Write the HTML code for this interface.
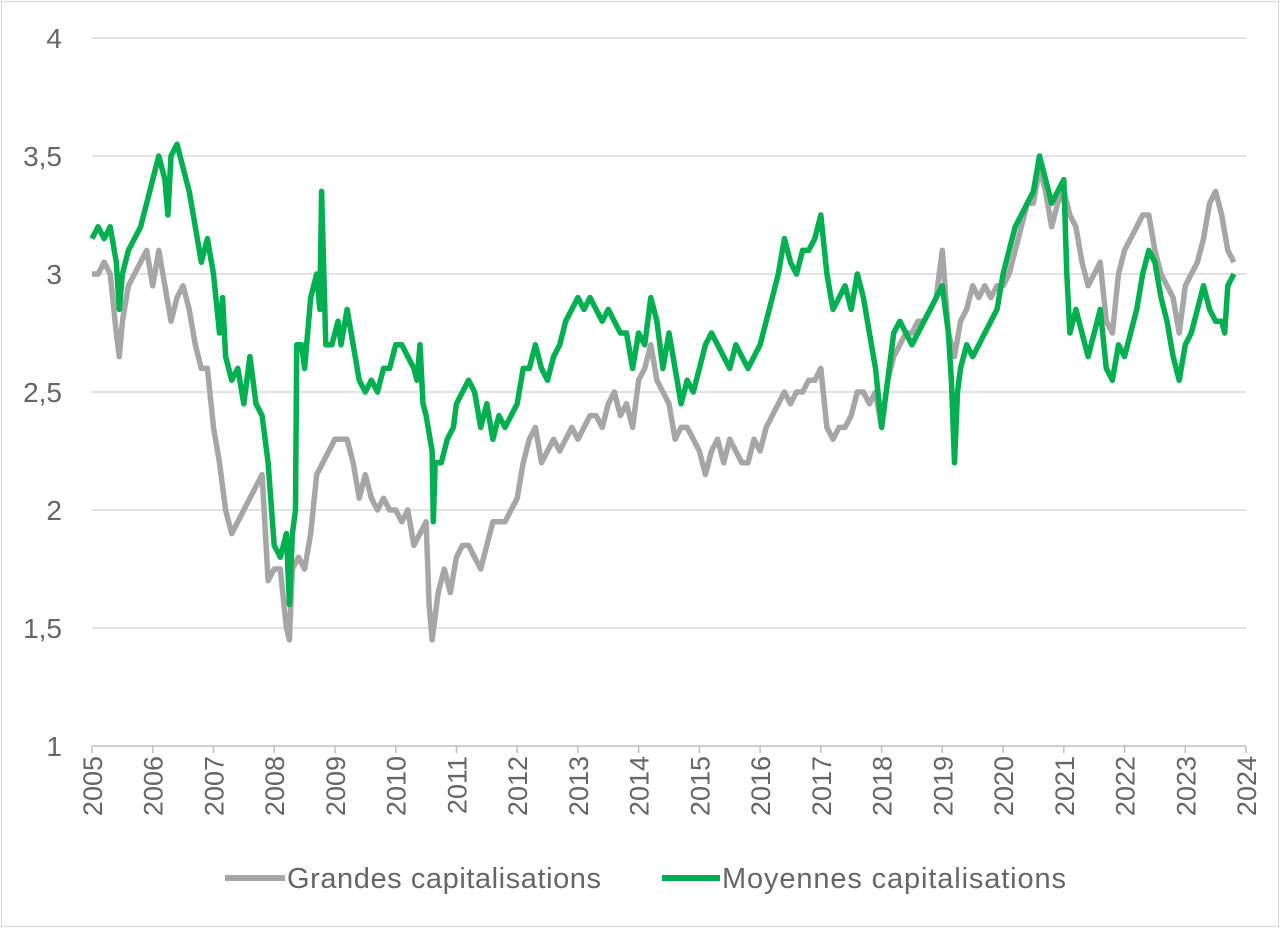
<!DOCTYPE html>
<html><head><meta charset="utf-8">
<style>
html,body{margin:0;padding:0;background:#fff;}
body{width:1280px;height:928px;overflow:hidden;font-family:"Liberation Sans",sans-serif;}
</style></head>
<body>
<svg id="chart" width="1280" height="928" xmlns="http://www.w3.org/2000/svg">
<rect x="1.5" y="1.5" width="1277" height="925" fill="#fff" stroke="#d9d9d9" stroke-width="1"/>
<g id="grid"></g><g id="axes"></g><g id="series"></g><g id="legend"></g>
</svg>
<script>
const yTicks=[1,1.5,2,2.5,3,3.5,4];
const yTickLabels=["1","1,5","2","2,5","3","3,5","4"];
const xTicks=[2005,2006,2007,2008,2009,2010,2011,2012,2013,2014,2015,2016,2017,2018,2019,2020,2021,2022,2023,2024];
const greenDates=[2005.0,2005.1,2005.2,2005.3,2005.4,2005.45,2005.5,2005.6,2005.7,2005.8,2005.9,2006.0,2006.1,2006.15,2006.2,2006.25,2006.3,2006.4,2006.5,2006.6,2006.7,2006.8,2006.9,2007.0,2007.1,2007.15,2007.2,2007.3,2007.4,2007.5,2007.6,2007.7,2007.8,2007.9,2008.0,2008.1,2008.2,2008.25,2008.3,2008.35,2008.37,2008.45,2008.5,2008.6,2008.7,2008.75,2008.78,2008.85,2008.95,2009.0,2009.05,2009.1,2009.2,2009.3,2009.4,2009.5,2009.6,2009.7,2009.8,2009.9,2010.0,2010.1,2010.2,2010.3,2010.35,2010.4,2010.45,2010.5,2010.6,2010.62,2010.65,2010.75,2010.85,2010.95,2011.0,2011.1,2011.2,2011.3,2011.4,2011.5,2011.6,2011.7,2011.8,2011.9,2012.0,2012.1,2012.2,2012.3,2012.4,2012.5,2012.6,2012.7,2012.8,2012.9,2013.0,2013.1,2013.2,2013.3,2013.4,2013.5,2013.6,2013.7,2013.8,2013.9,2014.0,2014.1,2014.2,2014.3,2014.4,2014.5,2014.6,2014.7,2014.8,2014.9,2015.0,2015.1,2015.2,2015.3,2015.4,2015.5,2015.6,2015.7,2015.8,2015.9,2016.0,2016.1,2016.2,2016.3,2016.4,2016.5,2016.6,2016.7,2016.8,2016.9,2017.0,2017.1,2017.2,2017.3,2017.4,2017.5,2017.6,2017.7,2017.8,2017.9,2018.0,2018.1,2018.2,2018.3,2018.4,2018.5,2018.6,2018.7,2018.8,2018.9,2019.0,2019.1,2019.15,2019.2,2019.25,2019.3,2019.4,2019.5,2019.6,2019.7,2019.8,2019.9,2020.0,2020.1,2020.2,2020.3,2020.4,2020.5,2020.6,2020.7,2020.8,2020.9,2021.0,2021.05,2021.1,2021.2,2021.3,2021.4,2021.5,2021.6,2021.7,2021.8,2021.9,2022.0,2022.1,2022.2,2022.3,2022.4,2022.5,2022.6,2022.7,2022.8,2022.9,2023.0,2023.1,2023.2,2023.3,2023.4,2023.5,2023.6,2023.65,2023.7,2023.8];
const greenValues=[3.15,3.2,3.15,3.2,3.05,2.85,3.0,3.1,3.15,3.2,3.3,3.4,3.5,3.45,3.4,3.25,3.5,3.55,3.45,3.35,3.2,3.05,3.15,3.0,2.75,2.9,2.65,2.55,2.6,2.45,2.65,2.45,2.4,2.2,1.85,1.8,1.9,1.6,1.9,2.0,2.7,2.7,2.6,2.9,3.0,2.85,3.35,2.7,2.7,2.75,2.8,2.7,2.85,2.7,2.55,2.5,2.55,2.5,2.6,2.6,2.7,2.7,2.65,2.6,2.55,2.7,2.45,2.4,2.25,1.95,2.2,2.2,2.3,2.35,2.45,2.5,2.55,2.5,2.35,2.45,2.3,2.4,2.35,2.4,2.45,2.6,2.6,2.7,2.6,2.55,2.65,2.7,2.8,2.85,2.9,2.85,2.9,2.85,2.8,2.85,2.8,2.75,2.75,2.6,2.75,2.7,2.9,2.8,2.6,2.75,2.6,2.45,2.55,2.5,2.6,2.7,2.75,2.7,2.65,2.6,2.7,2.65,2.6,2.65,2.7,2.8,2.9,3.0,3.15,3.05,3.0,3.1,3.1,3.15,3.25,3.0,2.85,2.9,2.95,2.85,3.0,2.9,2.75,2.6,2.35,2.55,2.75,2.8,2.75,2.7,2.75,2.8,2.85,2.9,2.95,2.75,2.55,2.2,2.5,2.6,2.7,2.65,2.7,2.75,2.8,2.85,3.0,3.1,3.2,3.25,3.3,3.35,3.5,3.4,3.3,3.35,3.4,3.0,2.75,2.85,2.75,2.65,2.75,2.85,2.6,2.55,2.7,2.65,2.75,2.85,3.0,3.1,3.05,2.9,2.8,2.65,2.55,2.7,2.75,2.85,2.95,2.85,2.8,2.8,2.75,2.95,3.0];
const grayDates=[2005.0,2005.1,2005.2,2005.3,2005.4,2005.45,2005.5,2005.6,2005.7,2005.8,2005.9,2006.0,2006.1,2006.2,2006.3,2006.4,2006.5,2006.6,2006.7,2006.8,2006.9,2007.0,2007.1,2007.2,2007.3,2007.4,2007.5,2007.6,2007.7,2007.8,2007.9,2008.0,2008.1,2008.2,2008.25,2008.3,2008.4,2008.5,2008.6,2008.7,2008.8,2008.9,2009.0,2009.1,2009.2,2009.3,2009.4,2009.5,2009.6,2009.7,2009.8,2009.9,2010.0,2010.1,2010.2,2010.3,2010.4,2010.5,2010.55,2010.6,2010.7,2010.8,2010.9,2011.0,2011.1,2011.2,2011.3,2011.4,2011.5,2011.6,2011.7,2011.8,2011.9,2012.0,2012.1,2012.2,2012.3,2012.4,2012.5,2012.6,2012.7,2012.8,2012.9,2013.0,2013.1,2013.2,2013.3,2013.4,2013.5,2013.6,2013.7,2013.8,2013.9,2014.0,2014.1,2014.2,2014.3,2014.4,2014.5,2014.6,2014.7,2014.8,2014.9,2015.0,2015.1,2015.2,2015.3,2015.4,2015.5,2015.6,2015.7,2015.8,2015.9,2016.0,2016.1,2016.2,2016.3,2016.4,2016.5,2016.6,2016.7,2016.8,2016.9,2017.0,2017.1,2017.2,2017.3,2017.4,2017.5,2017.6,2017.7,2017.8,2017.9,2018.0,2018.1,2018.2,2018.3,2018.4,2018.5,2018.6,2018.7,2018.8,2018.9,2019.0,2019.1,2019.2,2019.3,2019.4,2019.5,2019.6,2019.7,2019.8,2019.9,2020.0,2020.1,2020.2,2020.3,2020.4,2020.5,2020.6,2020.7,2020.8,2020.9,2021.0,2021.1,2021.2,2021.3,2021.4,2021.5,2021.6,2021.7,2021.8,2021.9,2022.0,2022.1,2022.2,2022.3,2022.4,2022.5,2022.6,2022.7,2022.8,2022.9,2023.0,2023.1,2023.2,2023.3,2023.4,2023.5,2023.6,2023.7,2023.8];
const grayValues=[3.0,3.0,3.05,3.0,2.75,2.65,2.8,2.95,3.0,3.05,3.1,2.95,3.1,2.95,2.8,2.9,2.95,2.85,2.7,2.6,2.6,2.35,2.2,2.0,1.9,1.95,2.0,2.05,2.1,2.15,1.7,1.75,1.75,1.5,1.45,1.75,1.8,1.75,1.9,2.15,2.2,2.25,2.3,2.3,2.3,2.2,2.05,2.15,2.05,2.0,2.05,2.0,2.0,1.95,2.0,1.85,1.9,1.95,1.6,1.45,1.65,1.75,1.65,1.8,1.85,1.85,1.8,1.75,1.85,1.95,1.95,1.95,2.0,2.05,2.2,2.3,2.35,2.2,2.25,2.3,2.25,2.3,2.35,2.3,2.35,2.4,2.4,2.35,2.45,2.5,2.4,2.45,2.35,2.55,2.6,2.7,2.55,2.5,2.45,2.3,2.35,2.35,2.3,2.25,2.15,2.25,2.3,2.2,2.3,2.25,2.2,2.2,2.3,2.25,2.35,2.4,2.45,2.5,2.45,2.5,2.5,2.55,2.55,2.6,2.35,2.3,2.35,2.35,2.4,2.5,2.5,2.45,2.5,2.35,2.55,2.65,2.7,2.75,2.75,2.8,2.8,2.85,2.9,3.1,2.75,2.65,2.8,2.85,2.95,2.9,2.95,2.9,2.95,2.95,3.0,3.1,3.2,3.3,3.3,3.45,3.35,3.2,3.3,3.35,3.25,3.2,3.05,2.95,3.0,3.05,2.8,2.75,3.0,3.1,3.15,3.2,3.25,3.25,3.1,3.0,2.95,2.9,2.75,2.95,3.0,3.05,3.15,3.3,3.35,3.25,3.1,3.05];

const NS="http://www.w3.org/2000/svg";
const X0=92,X1=1246,Y0=746,Y1=38;
function xScale(d){return X0+(d-2005)/(2024-2005)*(X1-X0);}
function yScale(v){return Y0-(v-1)/(4-1)*(Y0-Y1);}
function mk(tag,attrs,parent){const e=document.createElementNS(NS,tag);for(const k in attrs)e.setAttribute(k,attrs[k]);parent.appendChild(e);return e;}
const grid=document.getElementById('grid'),axes=document.getElementById('axes'),series=document.getElementById('series'),legend=document.getElementById('legend');
yTicks.forEach((t,i)=>{
  const y=yScale(t);
  if(i>0){const l=mk('line',{x1:X0,x2:X1,y1:y,y2:y,stroke:'#d9d9d9','stroke-width':1.5},grid);
  
  }
  const tx=mk('text',{x:62,y:y+10,'text-anchor':'end','font-size':28,fill:'#666666'},axes);
  tx.textContent=yTickLabels[i];
  
  
});
const ax=mk('line',{x1:X0,x2:X1,y1:Y0,y2:Y0,stroke:'#bfbfbf','stroke-width':1.5},axes);


xTicks.forEach(t=>{
  const x=xScale(t);
  const tk=mk('line',{x1:x,x2:x,y1:Y0,y2:Y0+7,stroke:'#bfbfbf','stroke-width':1.5},axes);
  
  
  const tx=mk('text',{x:0,y:0,'text-anchor':'end','font-size':27,fill:'#666666',transform:`translate(${x+10},${Y0+10}) rotate(-90)`},axes);
  tx.textContent=String(t);
  
  
});
function path(ds,vs){return ds.map((d,i)=>(i?'L':'M')+xScale(d).toFixed(1)+','+yScale(vs[i]).toFixed(1)).join(' ');}
const pg=mk('path',{d:path(grayDates,grayValues),fill:'none',stroke:'#a6a6a6','stroke-width':5.5,'stroke-linejoin':'round'},series);


const pgr=mk('path',{d:path(greenDates,greenValues),fill:'none',stroke:'#00b050','stroke-width':5.5,'stroke-linejoin':'round'},series);


const l1=mk('line',{x1:225,x2:285,y1:878,y2:878,stroke:'#a6a6a6','stroke-width':6},legend);


const t1=mk('text',{x:287,y:888,'font-size':29,fill:'#666666',textLength:314},legend);
t1.textContent='Grandes capitalisations';


const l2=mk('line',{x1:662,x2:720,y1:878,y2:878,stroke:'#00b050','stroke-width':6},legend);


const t2=mk('text',{x:722,y:888,'font-size':29,fill:'#666666',textLength:344},legend);
t2.textContent='Moyennes capitalisations';


</script>
</body></html>
